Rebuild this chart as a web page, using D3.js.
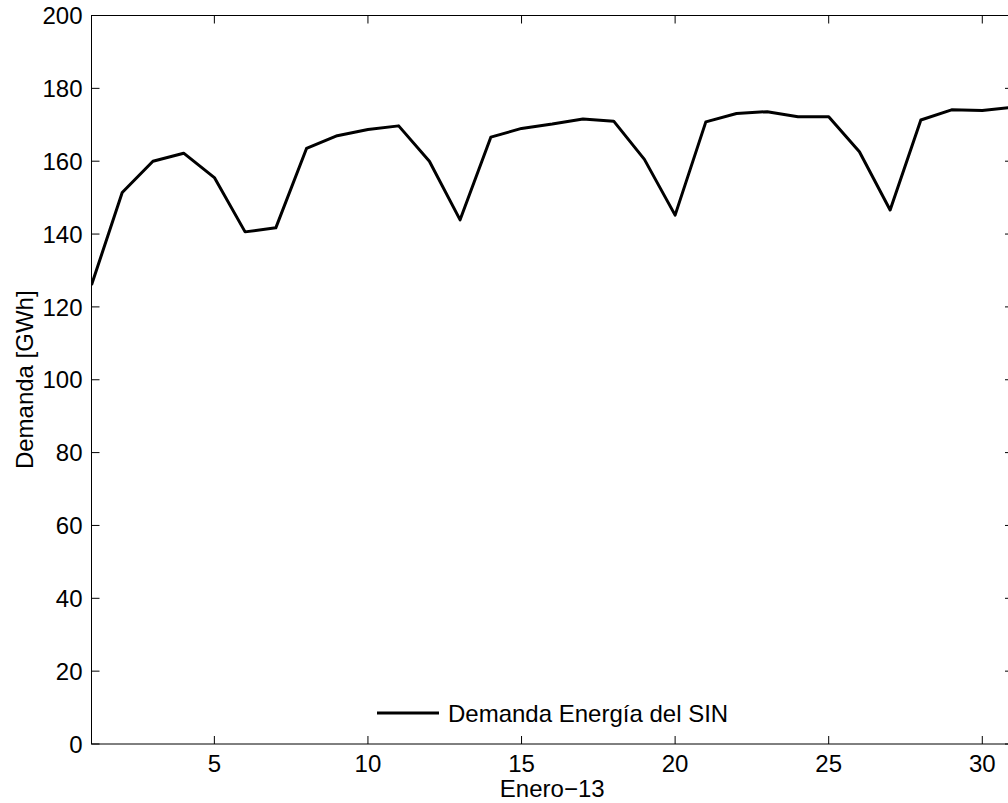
<!DOCTYPE html>
<html lang="es">
<head>
   <meta charset="UTF-8">
   <title>Demanda Energía del SIN</title>
   <script src="https://cdn.jsdelivr.net/npm/d3@7"></script>
   <style>
      body { margin: 0; background: #fff; }
      svg text { font-family: "Liberation Sans", Arial, Helvetica, sans-serif; fill: #000; }
   </style>
</head>
<body>
   <svg id="chart" width="1008" height="803"></svg>

   <script>
       // datos (enero 2013, GWh por dia)
       const dias = d3.range(1, 32);
       const demanda = [126.0, 151.4, 160.0, 162.2, 155.5, 140.6, 141.7, 163.5, 167.0, 168.7,
                        169.7, 160.0, 143.9, 166.6, 169.0, 170.2, 171.6, 171.0, 160.5, 145.2,
                        170.8, 173.1, 173.6, 172.2, 172.2, 162.6, 146.6, 171.3, 174.1, 173.9, 174.8];
       const xTicks = [5, 10, 15, 20, 25, 30];
       const yTicks = [0, 20, 40, 60, 80, 100, 120, 140, 160, 180, 200];
       const serieNombre = "Demanda Energía del SIN";

       const svg = d3.select('#chart');
       const mLeft = 91.5, mRight = 1013, mTop = 15.5, mBottom = 744;
       const fontSize = 24;

       const x = d3.scaleLinear().domain([1, 31]).range([mLeft, mRight]);
       const y = d3.scaleLinear().domain([0, 200]).range([mBottom, mTop]);

       const tickLen = 8;

       // caja de ejes
       const ax = svg.append('g').attr('stroke', '#000').attr('stroke-width', 1).attr('fill', 'none');
       ax.append('rect')
           .attr('x', mLeft).attr('y', mTop)
           .attr('width', mRight - mLeft).attr('height', mBottom - mTop);

       // ticks hacia adentro (estilo MATLAB)
       ax.append('g').selectAll('line').data(xTicks).join('line')
           .attr('x1', d => x(d)).attr('x2', d => x(d))
           .attr('y1', mBottom).attr('y2', mBottom - tickLen);
       ax.append('g').selectAll('line').data(xTicks).join('line')
           .attr('x1', d => x(d)).attr('x2', d => x(d))
           .attr('y1', mTop).attr('y2', mTop + tickLen);
       ax.append('g').selectAll('line').data(yTicks).join('line')
           .attr('x1', mLeft).attr('x2', mLeft + tickLen)
           .attr('y1', d => y(d)).attr('y2', d => y(d));
       ax.append('g').selectAll('line').data(yTicks).join('line')
           .attr('x1', mRight).attr('x2', mRight - tickLen)
           .attr('y1', d => y(d)).attr('y2', d => y(d));

       // etiquetas de ticks
       svg.append('g').selectAll('text').data(xTicks).join('text')
           .attr('x', d => x(d)).attr('y', 772)
           .attr('text-anchor', 'middle')
           .attr('font-size', fontSize)
           .text(d => d);

       svg.append('g').selectAll('text').data(yTicks).join('text')
           .attr('x', mLeft - 9).attr('y', d => y(d))
           .attr('dy', '0.36em')
           .attr('text-anchor', 'end')
           .attr('font-size', fontSize)
           .text(d => d);

       // titulos de ejes
       svg.append('text')
           .attr('x', (mLeft + mRight) / 2).attr('y', 797)
           .attr('text-anchor', 'middle')
           .attr('font-size', fontSize)
           .text('Enero\u221213');

       svg.append('text')
           .attr('transform', `translate(33, ${(mTop + mBottom) / 2}) rotate(-90)`)
           .attr('text-anchor', 'middle')
           .attr('font-size', fontSize)
           .text('Demanda [GWh]');

       // serie
       const line = d3.line()
           .x((d, i) => x(dias[i]))
           .y(d => y(d));

       svg.append('defs').append('clipPath').attr('id', 'clip')
           .append('rect').attr('x', mLeft).attr('y', mTop)
           .attr('width', mRight - mLeft).attr('height', mBottom - mTop);

       svg.append('path')
           .datum(demanda)
           .attr('clip-path', 'url(#clip)')
           .attr('fill', 'none')
           .attr('stroke', '#000')
           .attr('stroke-width', 3)
           .attr('stroke-linejoin', 'round')
           .attr('d', line);

       // leyenda (sin caja)
       const lg = svg.append('g').attr('transform', 'translate(377, 713)');
       lg.append('line')
           .attr('x1', 0).attr('x2', 62).attr('y1', 0).attr('y2', 0)
           .attr('stroke', '#000').attr('stroke-width', 3);
       lg.append('text')
           .attr('x', 71).attr('y', 0).attr('dy', '0.36em')
           .attr('font-size', fontSize)
           .text(serieNombre);
   </script>
</body>
</html>
